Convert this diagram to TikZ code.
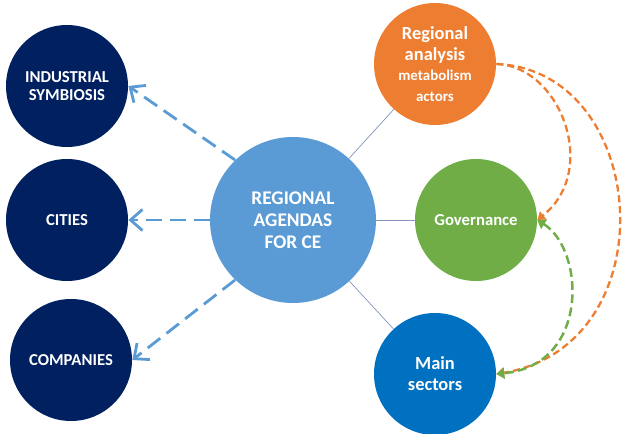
\documentclass[tikz,border=0pt]{standalone}
\usepackage{fontspec}
\setmainfont{Carlito}
\usepackage{xcolor}
\usetikzlibrary{arrows.meta}

\definecolor{navy}{RGB}{0,32,96}
\definecolor{agenda}{RGB}{91,155,213}
\definecolor{orng}{RGB}{237,125,49}
\definecolor{grn}{RGB}{112,173,71}
\definecolor{sect}{RGB}{0,112,192}
\definecolor{link}{RGB}{128,150,190}

\begin{document}
\begin{tikzpicture}[
    bubble/.style={circle,minimum size=2.44cm,inner sep=0pt,text=white,align=center,font=\bfseries\fontsize{9.5}{10.5}\selectfont},
    feed/.style={-{Straight Barb[length=2.4mm,width=4.2mm]},agenda,line width=1.6pt,dash pattern=on 9pt off 4.5pt},
    loopo/.style={-{Triangle[length=1.5mm,width=2mm]},orng,line width=1.3pt,dash pattern=on 4pt off 2.2pt},
    loopg/.style={{Triangle[length=1.6mm,width=2.2mm]}-{Triangle[length=1.6mm,width=2.2mm]},grn,line width=1.4pt,dash pattern=on 5pt off 2.5pt}]
    \useasboundingbox (0,0) rectangle (12.5,8.66);

    \node[bubble,fill=navy] (IS) at (1.34,6.94) {INDUSTRIAL\\SYMBIOSIS};
    \node[bubble,fill=navy] (CI) at (1.34,4.26) {CITIES};
    \node[bubble,fill=navy] (CO) at (1.42,1.46) {COMPANIES};
    \node[bubble,fill=agenda,minimum size=3.32cm,font=\bfseries\fontsize{11}{12.5}\selectfont] (CE) at (5.86,4.26) {REGIONAL\\AGENDAS\\FOR CE};
    \node[bubble,fill=orng,font=\bfseries\fontsize{10.5}{12}\selectfont] (RA) at (8.70,7.38) {Regional\\analysis\\[-1pt]\fontsize{8.5}{10}\selectfont metabolism\\\fontsize{8.5}{10}\selectfont actors};
    \node[bubble,fill=grn] (GO) at (9.52,4.26) {Governance};
    \node[bubble,fill=sect,font=\bfseries\fontsize{10.5}{12}\selectfont] (MS) at (8.70,1.18) {Main\\sectors};

    % links from the agenda
    \draw[link,thin] (CE) -- (RA);
    \draw[link,thin] (CE) -- (GO);
    \draw[link,thin] (CE) -- (MS);

    \draw[feed] (CE.134) -- (IS.east);
    \draw[feed] (CE.west) -- (CI.east);
    \draw[feed] (CE.226) -- (CO.east);

    % loops on the right
    \draw[loopo] (RA.east) .. controls (11.2,7.34) and (12.0,5.26) .. (GO.east);
    \draw[loopo] (RA.east) .. controls (13.0,7.26) and (13.4,1.76) .. (MS.east);
    \draw[loopg] (GO.east) .. controls (11.7,3.66) and (11.8,1.36) .. (MS.east);
\end{tikzpicture}
\end{document}
